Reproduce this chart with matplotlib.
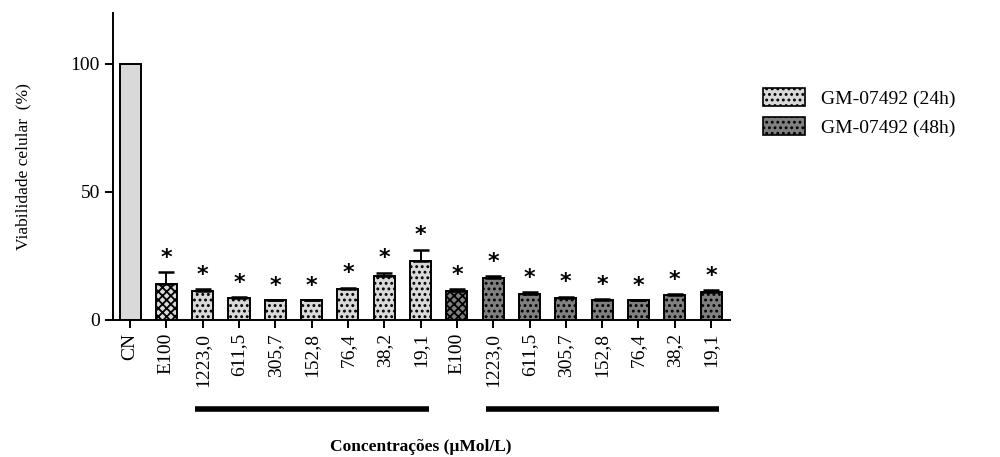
import matplotlib.pyplot as plt
from matplotlib.patches import Patch
import numpy as np

plt.rcParams['hatch.linewidth'] = 1.3
serif = ['Liberation Serif', 'DejaVu Serif']

# samples along the x axis
labels = ['CN', 'E100', '1223,0', '611,5', '305,7', '152,8', '76,4', '38,2', '19,1',
          'E100', '1223,0', '611,5', '305,7', '152,8', '76,4', '38,2', '19,1']
viab = [100, 13.9, 11.1, 8.6, 7.7, 7.6, 12.0, 17.1, 23.0,
        11.1, 16.3, 10.2, 8.6, 7.7, 7.7, 9.6, 10.9]
err = [0, 4.7, 1.1, 0.2, 0.1, 0.1, 0.6, 1.4, 4.5,
       1.1, 0.8, 0.6, 0.5, 0.3, 0.1, 0.6, 0.8]
signif = [False] + [True] * 16
group = ['cn'] + ['24h'] * 8 + ['48h'] * 8
legend_labels = ['GM-07492 (24h)', 'GM-07492 (48h)']

light = '#d9d9d9'
dark = '#808080'

fig = plt.figure(figsize=(10, 4.57), dpi=100)
ax = fig.add_axes([0.113, 0.300, 0.617, 0.672])

x = np.arange(len(labels))
for i in x:
    if group[i] == 'cn':
        fc, hatch = light, None
    else:
        fc = light if group[i] == '24h' else dark
        hatch = 'xxxx' if labels[i] == 'E100' else '...'
    ax.bar(i, viab[i], width=0.58, color=fc, edgecolor='black', linewidth=1.4,
           hatch=hatch, zorder=2)
    if err[i] > 0:
        ax.errorbar(i, viab[i], yerr=[[0], [err[i]]], fmt='none', ecolor='black',
                    elinewidth=1.4, capsize=6, capthick=1.8, zorder=3)
    if signif[i]:
        ax.annotate('*', (i, viab[i] + err[i]), xytext=(0, 3), textcoords='offset points',
                    ha='center', va='bottom', fontsize=16, fontweight='bold',
                    fontfamily='DejaVu Sans')

ax.set_xlim(-0.47, 16.52)
ax.set_ylim(0, 120)
ax.set_yticks([0, 50, 100])
ax.set_xticks(x)
ax.set_xticklabels(labels, rotation=90, fontsize=14, fontfamily=serif)
for t in ax.get_yticklabels():
    t.set_fontsize(14)
    t.set_fontfamily(serif)
ax.tick_params(width=1.4, length=6)
ax.spines['top'].set_visible(False)
ax.spines['right'].set_visible(False)
ax.spines['left'].set_linewidth(1.4)
ax.spines['bottom'].set_linewidth(1.4)

ax.set_ylabel('Viabilidade celular  (%)', fontsize=12.5, fontfamily=serif, labelpad=28)

# group bars under the concentration labels
trans = ax.get_xaxis_transform()
for a, b in [(2, 8), (10, 16)]:
    ax.plot([a - 0.2, b + 0.22], [-0.29, -0.29], transform=trans, color='black',
            linewidth=4, solid_capstyle='butt', clip_on=False)

fig.text(0.421, 0.022, 'Concentrações (µMol/L)', ha='center', va='center',
         fontsize=12.5, fontweight='bold', fontfamily=serif)

handles = [Patch(facecolor=light, edgecolor='black', hatch='...', linewidth=1.2),
           Patch(facecolor=dark, edgecolor='black', hatch='...', linewidth=1.2)]
fig.legend(handles, legend_labels, loc='upper left', bbox_to_anchor=(0.745, 0.845),
           frameon=False, prop={'family': serif, 'size': 14},
           handlelength=2.2, handleheight=1.0, labelspacing=0.5, handletextpad=0.8)

fig.savefig('out.png', dpi=100)
